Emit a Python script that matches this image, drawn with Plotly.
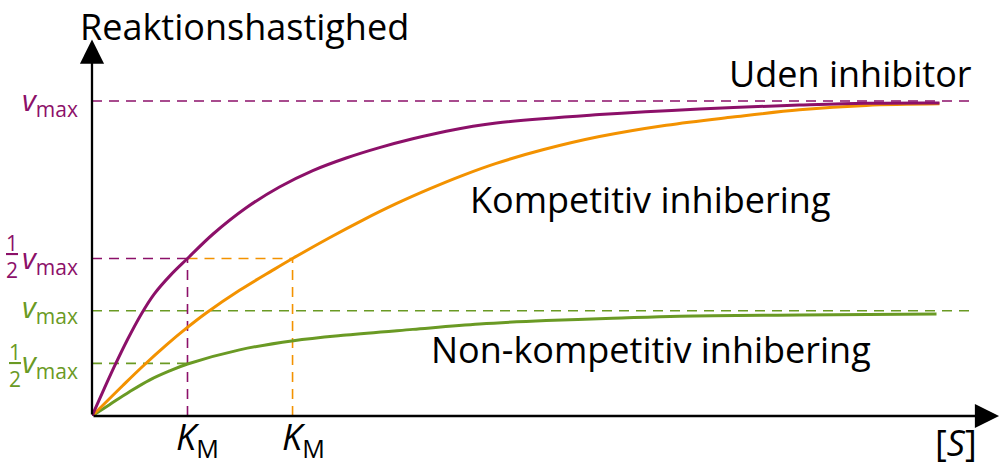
import plotly.graph_objects as go

# substrate concentration (units of K_M) and rate (units of v_max)
s_none = [0, 0.128, 0.232, 0.372, 0.511, 0.651, 0.825, 1.0, 1.265, 1.615, 1.963, 2.312,
          2.662, 3.010, 3.359, 3.709, 4.233, 5.314, 6.361, 7.408, 8.107, 8.874]
v_none = [0, 0.087, 0.156, 0.243, 0.321, 0.387, 0.448, 0.5, 0.577, 0.661, 0.727, 0.779,
          0.819, 0.852, 0.880, 0.904, 0.930, 0.957, 0.975, 0.987, 0.993, 0.994]

s_comp = [0, 0.323, 0.532, 0.777, 0.986, 1.196, 1.545, 1.893, 2.1, 2.487, 2.836, 3.185,
          3.534, 3.883, 4.233, 4.720, 5.314, 6.013, 6.710, 7.408, 8.107, 8.874]
v_comp = [0, 0.097, 0.158, 0.225, 0.278, 0.327, 0.399, 0.463, 0.5, 0.566, 0.622, 0.674,
          0.721, 0.764, 0.802, 0.845, 0.887, 0.923, 0.949, 0.972, 0.986, 0.991]

s_noncomp = [0, 0.183, 0.393, 0.602, 0.812, 1.0, 1.545, 2.110, 2.662, 3.359, 4.058, 4.756,
             5.453, 6.152, 7.408, 8.843]
v_noncomp = [0, 0.036, 0.077, 0.114, 0.143, 0.165, 0.210, 0.239, 0.257, 0.275, 0.292, 0.303,
             0.310, 0.317, 0.321, 0.324]

vmax = 1.0
vmax_noncomp = 0.334
km = 1.0
km_comp = 2.1
dash_end = 9.24

purple = '#8C1069'
orange = '#F39200'
green = '#6A9A24'
FONT = 'Open Sans'

W, H = 1002, 467
ML, MR, MT, MB = 92, 2, 38, 51
xmax = (W - ML - MR) / 95.5
ymax = (H - MT - MB) / 315

fig = go.Figure()

dash = '10px,7px'


def dashed(xs, ys, color):
    fig.add_trace(go.Scatter(x=xs, y=ys, mode='lines', hoverinfo='skip',
                             line=dict(color=color, width=1.6, dash=dash)))


# reference lines
dashed([0, dash_end], [vmax, vmax], purple)
dashed([0, dash_end], [vmax_noncomp, vmax_noncomp], green)
dashed([0, km], [vmax / 2, vmax / 2], purple)
dashed([km, km_comp], [vmax / 2, vmax / 2], orange)
dashed([km, km], [0, vmax / 2], purple)
dashed([km_comp, km_comp], [0, vmax / 2], orange)
dashed([0, km], [vmax_noncomp / 2, vmax_noncomp / 2], green)

# curves
for s, v, c in [(s_noncomp, v_noncomp, green), (s_comp, v_comp, orange), (s_none, v_none, purple)]:
    fig.add_trace(go.Scatter(x=s, y=v, mode='lines', hoverinfo='skip',
                             line=dict(color=c, width=3, shape='spline', smoothing=1.0)))

# axes with arrows
for (x, y) in [(xmax - 0.01, 0), (0, ymax - 0.005)]:
    fig.add_annotation(x=x, y=y, ax=0, ay=0, axref='x', ayref='y', text='',
                       showarrow=True, arrowhead=2, arrowsize=2.1, arrowwidth=2.3,
                       arrowcolor='black', standoff=0)


def label(text, x, y, size=36, color='black', xanchor='center', yanchor='middle'):
    fig.add_annotation(x=x / xmax, y=y / ymax, xref='paper', yref='paper', text=text,
                       showarrow=False, xanchor=xanchor, yanchor=yanchor,
                       font=dict(family=FONT, size=size, color=color))


top = (H - MB) / 315      # top edge of the figure, in data units
bottom = -MB / 315        # bottom edge of the figure

label('Reaktionshastighed', -0.15, top, xanchor='left', yanchor='top')
label('Uden inhibitor', dash_end, 1.086, xanchor='right')
label('Kompetitiv inhibering', 5.84, 0.686)
label('Non-kompetitiv inhibering', 5.85, 0.21)
label('[<i>S</i>]', 9.05, -0.084)
label('<i>K</i><sub>M</sub>', km + 0.1, bottom, yanchor='bottom')
label('<i>K</i><sub>M</sub>', km_comp + 0.11, bottom, yanchor='bottom')

label('<i>v</i><sub>max</sub>', -0.13, vmax, size=30, color=purple, xanchor='right')
label('<i>v</i><sub>max</sub>', -0.13, vmax / 2, size=30, color=purple, xanchor='right')
label('<u>1</u><br>2', -0.84, vmax / 2 + 0.005, size=21, color=purple)
label('<i>v</i><sub>max</sub>', -0.13, vmax_noncomp + 0.01, size=30, color=green, xanchor='right')
label('<i>v</i><sub>max</sub>', -0.13, vmax_noncomp / 2, size=30, color=green, xanchor='right')
label('<u>1</u><br>2', -0.81, vmax_noncomp / 2 - 0.008, size=21, color=green)

fig.update_layout(
    width=W, height=H,
    margin=dict(l=ML, r=MR, t=MT, b=MB),
    plot_bgcolor='white', paper_bgcolor='white',
    showlegend=False,
    xaxis=dict(range=[0, xmax], showgrid=False, zeroline=False, showticklabels=False, showline=False),
    yaxis=dict(range=[0, ymax], showgrid=False, zeroline=False, showticklabels=False, showline=False),
)

# drop the default page margin so the figure fills the window
fig.write_html("out.html", config={'displayModeBar': False},
               post_script="document.body.style.margin='0px';")
